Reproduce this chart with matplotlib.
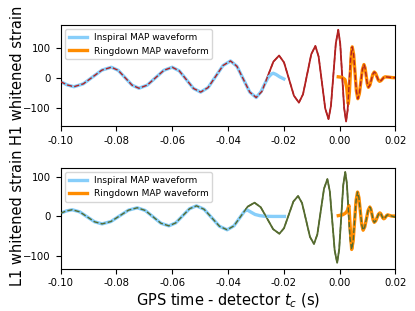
import matplotlib
matplotlib.use("Agg")
import matplotlib.pyplot as plt

# ---------------- H1 (top panel) ----------------
h1_t = [-0.1000, -0.0976, -0.0952, -0.09185, -0.0885, -0.08515, -0.0818, -0.07933,
        -0.07685, -0.07438, -0.0719, -0.06893, -0.06595, -0.06298, -0.0600, -0.05745,
        -0.0549, -0.05235, -0.0498, -0.04713, -0.04445, -0.04178, -0.0391, -0.0368,
        -0.0345, -0.0322, -0.0299, -0.02785, -0.0258, -0.02375, -0.0217, -0.01993,
        -0.01815, -0.01638, -0.0146, -0.01313, -0.01165, -0.01018, -0.0087, -0.00753,
        -0.00635, -0.00518, -0.0040, -0.00313, -0.00225, -0.00138, -0.0005, 0.0002,
        0.0009, 0.0016, 0.0023, 0.00285, 0.0034, 0.00395, 0.0045, 0.0050,
        0.0055, 0.0060, 0.0065, 0.00705, 0.0076, 0.00815, 0.0087, 0.0091,
        0.0095, 0.0099, 0.0103, 0.01083, 0.01135, 0.01188, 0.0124, 0.01288,
        0.01335, 0.01383, 0.0143, 0.0148, 0.0153, 0.0158, 0.0163, 0.0175,
        0.0188, 0.0200]
h1_v = [-11, -22, -28, -18.5, 4.5, 27.5, 37, 26.7,
        2, -22.7, -33, -22.7, 2, 26.7, 37, 24.8,
        -4.5, -33.8, -46, -30.8, 6, 42.8, 58, 40.1,
        -3, -46.1, -64, -43.5, 6, 55.5, 76, 53,
        -2.5, -58, -81, -53.3, 13.5, 80.3, 108, 72.3,
        -14, -100.3, -136, -92.6, 12, 116.6, 162, 115.6,
        8.5, -98.6, -144, -106.7, -19, 68.7, 105, 79.7,
        18.5, -42.7, -68, -51.3, -11, 29.3, 46, 34.9,
        8, -18.9, -30, -22.5, -4.5, 13.5, 21, 16.5,
        5.5, -5.5, -10, -7.8, -2.5, 2.8, 5, 4,
        2.5, 2]

h1_insp_tail_t = [-0.0282, -0.0268, -0.0256, -0.0245, -0.0238, -0.0228, -0.0215, -0.0200]
h1_insp_tail_v = [-45, -18, 3, 14, 17, 13, 5, -2]
h1_insp_t = h1_t[:27] + h1_insp_tail_t
h1_insp_v = h1_v[:27] + h1_insp_tail_v

h1_rd_head_t = [-0.0005, 0.0004, 0.0012, 0.0019, 0.0025, 0.0031, 0.0035, 0.0039, 0.0042]
h1_rd_head_v = [5, 4, 1, -4, -30, -85, -45, 30, 85]
h1_rd_t = h1_rd_head_t + h1_t[54:]
h1_rd_v = h1_rd_head_v + h1_v[54:]

# ---------------- L1 (bottom panel) ----------------
l1_t = [-0.1000, -0.0979, -0.0958, -0.09313, -0.09045, -0.08778, -0.0851, -0.08195,
        -0.0788, -0.07565, -0.0725, -0.06968, -0.06685, -0.06403, -0.0612, -0.05873,
        -0.05625, -0.05378, -0.0513, -0.04855, -0.0458, -0.04305, -0.0403, -0.03785,
        -0.0354, -0.03295, -0.0305, -0.02828, -0.02605, -0.02383, -0.0216, -0.01993,
        -0.01825, -0.01658, -0.0149, -0.01348, -0.01205, -0.01063, -0.0092, -0.0080,
        -0.0068, -0.0056, -0.0044, -0.00353, -0.00265, -0.00178, -0.0009, -0.00018,
        0.00055, 0.00128, 0.0020, 0.00258, 0.00315, 0.00373, 0.0043, 0.00483,
        0.00535, 0.00588, 0.0064, 0.0069, 0.0074, 0.0079, 0.0084, 0.0090,
        0.0096, 0.0102, 0.0108, 0.0112, 0.0116, 0.0120, 0.0124, 0.0129,
        0.0134, 0.0139, 0.0144, 0.01475, 0.0151, 0.01545, 0.0158, 0.01615,
        0.0165, 0.01685, 0.0172, 0.0186, 0.0200]
l1_v = [8, 14, 17, 11.7, -1, -13.7, -19, -13,
        1.5, 16, 22, 15.3, -1, -17.3, -24, -16.5,
        1.5, 19.5, 27, 18.1, -3.5, -25.1, -34, -23.9,
        0.5, 24.9, 35, 23.4, -4.5, -32.4, -44, -29.9,
        4, 37.9, 52, 34.1, -9, -52.1, -70, -45.8,
        12.5, 70.8, 95, 63.8, -11.5, -86.8, -118, -84.2,
        -2.5, 79.2, 113, 84.1, 14.5, -55.1, -84, -62.6,
        -11, 40.6, 62, 47.8, 13.5, -20.8, -35, -26.4,
        -5.5, 15.4, 24, 18.3, 4.5, -9.3, -15, -11.5,
        -3, 5.5, 9, 6.8, 1.5, -3.8, -6, -4.5,
        -1, 2.5, 4, 1, -2]

l1_insp_tail_t = [-0.0340, -0.0330, -0.0318, -0.0303, -0.0286, -0.0270, -0.0240, -0.0198]
l1_insp_tail_v = [14, 16, 11, 5, 2, 0.5, 0, 0]
l1_insp_t = l1_t[:25] + l1_insp_tail_t
l1_insp_v = l1_v[:25] + l1_insp_tail_v

l1_rd_head_t = [-0.0005, 0.0010, 0.0020, 0.0027, 0.0033, 0.0038, 0.0043]
l1_rd_head_v = [2, 4, 8, 14, 28, -30, -84]
l1_rd_t = l1_rd_head_t + l1_t[55:]
l1_rd_v = l1_rd_head_v + l1_v[55:-1] + [1]

xticks = [-0.10, -0.08, -0.06, -0.04, -0.02, 0.00, 0.02]
yticks = [-100, 0, 100]

fig = plt.figure(figsize=(4.15, 3.11), dpi=100)
ax1 = fig.add_axes([0.1458, 0.5949, 0.8072, 0.3248])
ax2 = fig.add_axes([0.1458, 0.1360, 0.8072, 0.3248])

panels = [
    (ax1, h1_t, h1_v, h1_insp_t, h1_insp_v, h1_rd_t, h1_rd_v, "firebrick",
     "H1 whitened strain", (-159, 178)),
    (ax2, l1_t, l1_v, l1_insp_t, l1_insp_v, l1_rd_t, l1_rd_v, "darkolivegreen",
     "L1 whitened strain", (-133, 124)),
]

for ax, t, v, it, iv, rt, rv, col, ylab, ylim in panels:
    ax.plot(t, v, color=col, lw=1.3, zorder=1, solid_joinstyle="round")
    ax.plot(it, iv, color="lightskyblue", lw=2.4, zorder=2,
            label="Inspiral MAP waveform", solid_joinstyle="round")
    ax.plot(rt, rv, color="darkorange", lw=2.4, zorder=2,
            label="Ringdown MAP waveform", solid_joinstyle="round")
    ax.plot(t, v, color=col, lw=1.0, ls="--", zorder=3)
    ax.set_xlim(-0.1, 0.02)
    ax.set_ylim(*ylim)
    ax.set_xticks(xticks)
    ax.set_xticklabels(["%.2f" % x if x != 0 else "0.00" for x in xticks])
    ax.set_yticks(yticks)
    ax.tick_params(labelsize=7.3)
    ax.set_ylabel(ylab, fontsize=10.5)
    ax.yaxis.set_label_coords(-0.106, 0.5)
    ax.legend(loc="upper left", fontsize=6.5)

ax2.set_xlabel("GPS time - detector $t_c$ (s)", fontsize=10.5, labelpad=2)

fig.savefig("out.png", dpi=100)
